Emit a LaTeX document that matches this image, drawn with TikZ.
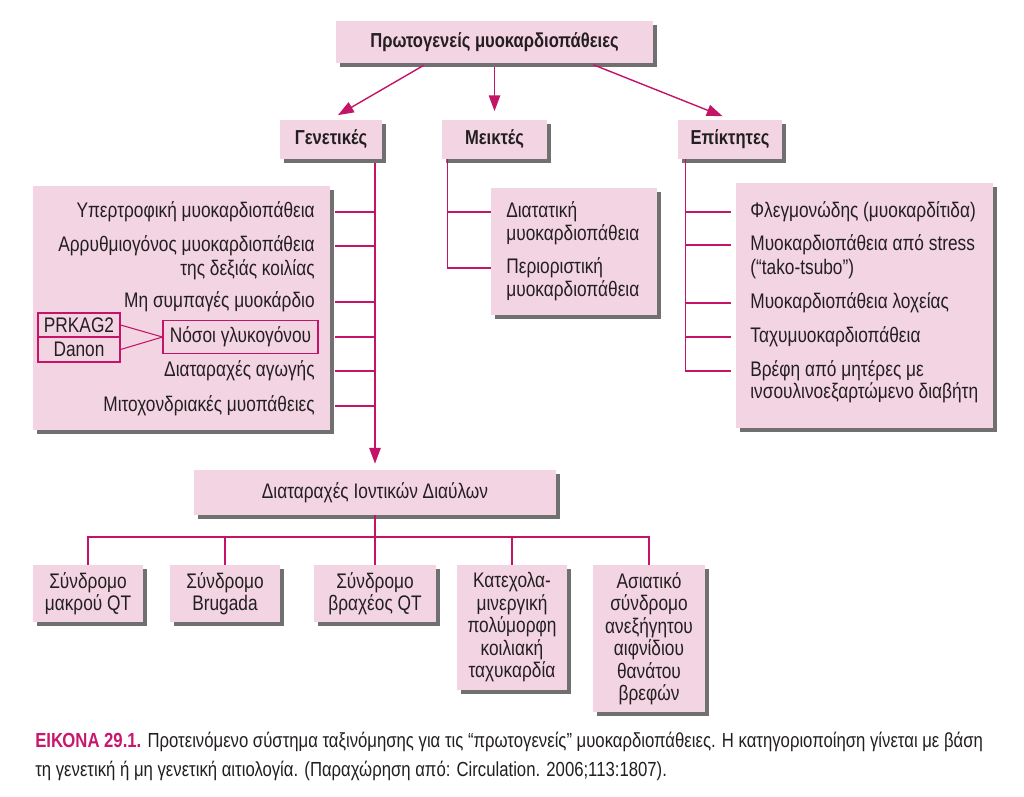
\documentclass[tikz,border=0pt]{standalone}
\usepackage{fontspec}
\setmainfont[FakeStretch=0.82]{Liberation Sans}
\usetikzlibrary{arrows.meta,calc,shadows}
\definecolor{boxpink}{RGB}{243,212,226}
\definecolor{linkmag}{RGB}{196,20,104}
\definecolor{shade}{RGB}{112,112,112}
\definecolor{inkdark}{RGB}{35,31,32}
\definecolor{capmag}{RGB}{200,24,110}

\begin{document}
\begin{tikzpicture}[
        x=0.02cm, y=-0.02cm,
        font=\fontsize{12}{12.8}\selectfont, text=inkdark,
        pbox/.style={
            rectangle, fill=boxpink, inner sep=0pt,
            drop shadow={shadow xshift=2.4pt, shadow yshift=-2.4pt,
                opacity=1, fill=shade}
        },
        head/.style={pbox, font=\fontsize{11.5}{12.8}\selectfont\bfseries},
        leaf/.style={pbox, align=center},
        tag/.style={
            rectangle, draw=linkmag, line width=0.6pt,
            fill=boxpink, inner sep=0pt
        },
        item/.style={inner sep=0pt, text height=8.5pt, text depth=2.5pt},
        link/.style={draw=linkmag, line width=0.8pt},
        arr/.style={link, -{Triangle[length=9pt,width=6.5pt]}}
    ]

    % Canvas
    \fill[white] (0,0) rectangle (1024,796);
    \useasboundingbox (0,0) rectangle (1024,796);

    % Title and the three groups
    \node[head, minimum width=6.34cm, minimum height=0.84cm]
        (top) at (494.5, 42) {Πρωτογενείς μυοκαρδιοπάθειες};
    \node[head, minimum width=2.04cm, minimum height=0.78cm]
        (gen) at (331, 139) {Γενετικές};
    \node[head, minimum width=2.1cm, minimum height=0.78cm]
        (mix) at (494.5, 139) {Μεικτές};
    \node[head, minimum width=2.08cm, minimum height=0.78cm]
        (acq) at (730, 139) {Επίκτητες};

    % Arrows from title to groups
    \draw[arr, shorten <=0.08cm, shorten >=0.16cm]
        ($(top.south west)!0.288!(top.south east)$) -- (gen.north);
    \draw[arr, shorten <=0.08cm, shorten >=0.16cm]
        (top.south) -- (mix.north);
    \draw[arr, shorten <=0.08cm, shorten >=0.16cm]
        ($(top.south west)!0.8!(top.south east)$) -- (acq.north);

    % Genetic list
    \node[pbox, minimum width=5.94cm, minimum height=4.88cm]
        (gbox) at (181.5, 308) {};
    \node[item, anchor=east] (g1) at (315, 212) {Υπερτροφική μυοκαρδιοπάθεια};
    \node[item, anchor=east] (g2) at (315, 246) {Αρρυθμιογόνος μυοκαρδιοπάθεια};
    \node[item, anchor=east] (g2b) at (315, 270) {της δεξιάς κοιλίας};
    \node[item, anchor=east] (g3) at (315, 302) {Μη συμπαγές μυοκάρδιο};
    \node[tag, minimum width=3.1cm, minimum height=0.66cm]
        (glyc) at (240.5, 337) {Νόσοι γλυκογόνου};
    \node[tag, minimum width=1.64cm, minimum height=0.48cm]
        (prk) at (79, 325) {PRKAG2};
    \node[tag, minimum width=1.64cm, minimum height=0.5cm]
        (danon) at (79, 349.5) {Danon};
    \node[item, anchor=east] (g5) at (315, 371) {Διαταραχές αγωγής};
    \node[item, anchor=east] (g6) at (315, 406) {Μιτοχονδριακές μυοπάθειες};

    \draw[link, line width=0.6pt] (prk.east) -- (glyc.west);
    \draw[link, line width=0.6pt] (danon.east) -- (glyc.west);

    % Ion channel box
    \node[leaf, minimum width=7.24cm, minimum height=0.9cm]
        (ion) at (375, 492.5) {Διαταραχές Ιοντικών Διαύλων};
    \draw[arr, shorten <=0.08cm, shorten >=0.12cm]
        (gen.south -| ion.north) -- (ion.north);

    % Ticks on the genetic stem
    \draw[link, shorten <=0.1cm] (gbox.east |- g1) -- (ion.north |- g1);
    \draw[link, shorten <=0.1cm] (gbox.east |- g2) -- (ion.north |- g2);
    \draw[link, shorten <=0.1cm] (gbox.east |- g3) -- (ion.north |- g3);
    \draw[link, shorten <=0.1cm] (gbox.east |- glyc) -- (ion.north |- glyc);
    \draw[link, shorten <=0.1cm] (gbox.east |- g5) -- (ion.north |- g5);
    \draw[link, shorten <=0.1cm] (gbox.east |- g6) -- (ion.north |- g6);

    % Mixed list
    \node[pbox, minimum width=3.32cm, minimum height=2.54cm]
        (mbox) at (574, 251.5) {};
    \node[item, anchor=west] (m1) at (506, 212) {Διατατική};
    \node[item, anchor=west] (m1b) at (506, 235) {μυοκαρδιοπάθεια};
    \node[item, anchor=west] (m2) at (506, 268) {Περιοριστική};
    \node[item, anchor=west] (m2b) at (506, 291) {μυοκαρδιοπάθεια};
    \coordinate (mroot) at ([xshift=0.12cm]mix.south west);
    \draw[link] (mroot) |- (mbox.west |- m2);
    \draw[link] (mroot |- m1) -- (mbox.west |- m1);

    % Acquired list
    \node[pbox, minimum width=5.14cm, minimum height=4.9cm]
        (abox) at (864.5, 305.5) {};
    \node[item, anchor=west] (a1) at (750, 212) {Φλεγμονώδης (μυοκαρδίτιδα)};
    \node[item, anchor=west] (a2) at (750, 245) {Μυοκαρδιοπάθεια από stress};
    \node[item, anchor=west] (a2b) at (750, 269) {(“tako-tsubo”)};
    \node[item, anchor=west] (a3) at (750, 303) {Μυοκαρδιοπάθεια λοχείας};
    \node[item, anchor=west] (a4) at (750, 337) {Ταχυμυοκαρδιοπάθεια};
    \node[item, anchor=west] (a5) at (750, 371) {Βρέφη από μητέρες με};
    \node[item, anchor=west] (a5b) at (750, 393) {ινσουλινοεξαρτώμενο διαβήτη};
    \coordinate (aroot) at ([xshift=0.16cm]acq.south west);
    \draw[link, shorten >=0.1cm] (aroot) |- (abox.west |- a5);
    \draw[link, shorten >=0.1cm] (aroot |- a1) -- (abox.west |- a1);
    \draw[link, shorten >=0.1cm] (aroot |- a2) -- (abox.west |- a2);
    \draw[link, shorten >=0.1cm] (aroot |- a3) -- (abox.west |- a3);
    \draw[link, shorten >=0.1cm] (aroot |- a4) -- (abox.west |- a4);

    % Channel disorders
    \coordinate (bus) at (375, 537);
    \node[leaf, minimum width=2.2cm, minimum height=1.14cm]
        (s1) at (88, 593.5) {Σύνδρομο\\μακρού QT};
    \node[leaf, minimum width=2.2cm, minimum height=1.14cm]
        (s2) at (225, 593.5) {Σύνδρομο\\Brugada};
    \node[leaf, minimum width=2.44cm, minimum height=1.14cm]
        (s3) at (375, 593.5) {Σύνδρομο\\βραχέος QT};
    \node[leaf, minimum width=2.2cm, minimum height=2.5cm]
        (s4) at (512, 627.5)
        {Κατεχολα-\\μινεργική\\πολύμορφη\\κοιλιακή\\ταχυκαρδία};
    \node[leaf, minimum width=2.24cm, minimum height=2.94cm]
        (s5) at (649, 638.5)
        {Ασιατικό\\σύνδρομο\\ανεξήγητου\\αιφνίδιου\\θανάτου\\βρεφών};

    \draw[link] (ion.south) |- (s1.north |- bus) -- (s1.north);
    \draw[link] (ion.south) |- (s2.north |- bus) -- (s2.north);
    \draw[link] (ion.south) -- (s3.north);
    \draw[link] (ion.south) |- (s4.north |- bus) -- (s4.north);
    \draw[link] (ion.south) |- (s5.north |- bus) -- (s5.north);

    % Caption
    \node[anchor=west, inner sep=0pt, font=\fontsize{11.6}{12.8}\selectfont]
        (cap1) at (35, 742)
        {\textcolor{capmag}{\bfseries ΕΙΚΟΝΑ 29.1.} Προτεινόμενο σύστημα ταξινόμησης για τις “πρωτογενείς” μυοκαρδιοπάθειες. Η κατηγοριοποίηση γίνεται με βάση};
    \node[anchor=west, inner sep=0pt, font=\fontsize{11.6}{12.8}\selectfont]
        (cap2) at (35, 771)
        {τη γενετική ή μη γενετική αιτιολογία. (Παραχώρηση από: Circulation. 2006;113:1807).};

\end{tikzpicture}
\end{document}
